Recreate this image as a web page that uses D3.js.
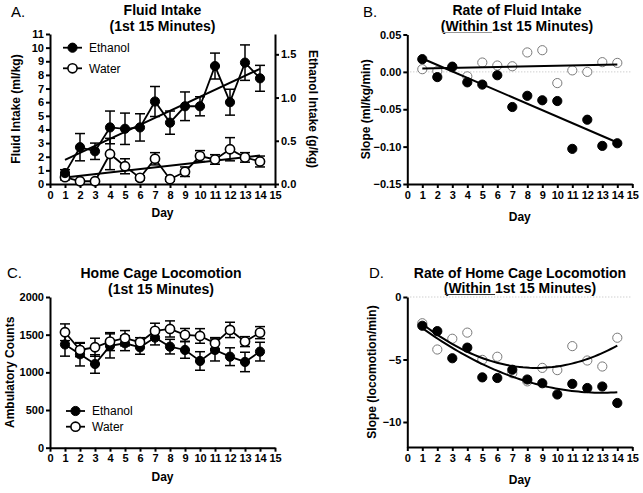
<!DOCTYPE html>
<html><head><meta charset="utf-8">
<script src="https://cdn.jsdelivr.net/npm/d3@7"></script>
<style>
body{margin:0;background:#fff;}
svg{display:block;font-family:"Liberation Sans",Arial,sans-serif;}
.axis path,.axis line{stroke:#000;stroke-width:2;}
.axis text{font-size:11px;font-weight:bold;fill:#000;font-family:"Liberation Sans",Arial,sans-serif;}
</style></head><body>
<svg id="c" width="643" height="493"></svg>
<script>
// ---------- data ----------
const days = [1,2,3,4,5,6,7,8,9,10,11,12,13,14];
const xTicks = [0,1,2,3,4,5,6,7,8,9,10,11,12,13,14,15];

// A. Fluid intake (ml/kg), mean and SEM
const fluidEthanol    = [0.8,2.7,2.4,4.15,4.05,4.15,6.05,4.5,5.7,5.7,8.65,6.0,8.9,7.75];
const fluidEthanolSem = [0.25,1.0,0.6,1.2,1.15,1.0,1.1,0.85,1.05,0.7,0.95,0.95,1.3,0.95];
const fluidWater      = [0.5,0.2,0.2,2.2,1.3,0.45,1.85,0.35,0.9,2.05,1.8,2.55,1.95,1.65];
const fluidWaterSem   = [0.2,0.1,0.1,1.15,0.55,0.15,0.45,0.15,0.35,0.4,0.35,0.85,0.35,0.4];
const fluidYTicks = [0,1,2,3,4,5,6,7,8,9,10,11];
const ethanolGkgTicks = [0.0,0.5,1.0,1.5];

// B. Rate of fluid intake (slope, ml/kg/min)
const rateEthanol = [0.017,-0.007,0.007,-0.014,-0.017,-0.0045,-0.047,-0.032,-0.038,-0.039,-0.103,-0.064,-0.099,-0.0955];
const rateWater   = [0.0036,0.001,0.006,-0.006,0.0125,0.0085,0.0075,0.026,0.029,-0.015,0.002,0.0,0.013,0.012];
const rateYTicks = [0.05,0.00,-0.05,-0.10,-0.15];

// C. Home cage locomotion (ambulatory counts), mean and SEM
const locoEthanol    = [1370,1240,1111,1351,1386,1333,1461,1341,1297,1151,1297,1208,1138,1275];
const locoEthanolSem = [155,155,123,160,98,93,97,97,110,123,146,118,129,124];
const locoWater      = [1532,1297,1333,1408,1453,1400,1550,1576,1497,1483,1386,1563,1408,1527];
const locoWaterSem   = [111,89,120,119,101,60,102,107,85,97,75,102,66,80];
const locoYTicks = [0,500,1000,1500,2000];

// D. Rate of home cage locomotion (slope, locomotion/min)
const locoRateEthanol = [-2.3,-2.73,-4.9,-4.05,-6.43,-6.48,-5.82,-6.6,-6.9,-7.8,-6.95,-7.28,-7.16,-8.48];
const locoRateWater   = [-2.1,-4.2,-3.34,-2.85,-5.03,-4.78,-6.1,-6.75,-5.67,-5.85,-3.93,-5.08,-5.56,-3.26];
const locoRateYTicks = [0,-5,-10];

// ---------- helpers ----------
const svg = d3.select("#c");
const FONT = '"Liberation Sans",Arial,sans-serif';

function linFit(xs, ys){
  const mx = d3.mean(xs), my = d3.mean(ys);
  let sxy=0,sxx=0; xs.forEach((x,i)=>{sxy+=(x-mx)*(ys[i]-my); sxx+=(x-mx)*(x-mx);});
  const b = sxy/sxx; return x => my + b*(x-mx);
}
function quadFit(xs, ys){
  const mx = d3.mean(xs), n = xs.length;
  let s2=0,s3=0,s4=0,sy=0,suy=0,su2y=0;
  xs.forEach((x,i)=>{const u=x-mx,y=ys[i]; s2+=u*u; s3+=u*u*u; s4+=u*u*u*u; sy+=y; suy+=u*y; su2y+=u*u*y;});
  const M=[[n,0,s2,sy],[0,s2,s3,suy],[s2,s3,s4,su2y]];
  for(let i=0;i<3;i++){for(let j=i+1;j<3;j++){const f=M[j][i]/M[i][i];for(let k=i;k<4;k++)M[j][k]-=f*M[i][k];}}
  const c=M[2][3]/M[2][2]; const b=(M[1][3]-M[1][2]*c)/M[1][1]; const a=(M[0][3]-M[0][2]*c-M[0][1]*b)/M[0][0];
  return x => a + b*(x-mx) + c*(x-mx)*(x-mx);
}

function panel(opt){
  const g = svg.append("g");
  const x = d3.scaleLinear().domain([0,15]).range([opt.x0,opt.x1]);
  const y = d3.scaleLinear().domain(opt.yDomain).range([opt.yb,opt.yt]);
  g.append("text").attr("x",opt.lx).attr("y",opt.ly).attr("font-size",15).attr("font-family",FONT).text(opt.letter);
  const tc = opt.tc;
  g.append("text").attr("x",tc).attr("y",opt.t1).attr("text-anchor","middle").attr("font-size",14).attr("font-weight","bold").attr("font-family",FONT).text(opt.title1);
  const t2 = g.append("text").attr("x",tc).attr("y",opt.t2).attr("text-anchor","middle").attr("font-size",14).attr("font-weight","bold").attr("font-family",FONT).text(opt.title2);
  if(opt.underline){
    const node=t2.node();
    const sx=node.getStartPositionOfChar(0).x, ex=node.getEndPositionOfChar(7).x;
    g.append("line").attr("x1",sx+1).attr("x2",ex).attr("y1",opt.t2+1.5).attr("y2",opt.t2+1.5).attr("stroke",opt.underline).attr("stroke-width",1.2);
  }
  if(opt.zero){
    g.append("line").attr("x1",x(0)).attr("x2",x(15)).attr("y1",y(0)).attr("y2",y(0))
      .attr("stroke","#bbb").attr("stroke-width",1).attr("stroke-dasharray","1,2");
  }
  g.append("g").attr("class","axis").attr("transform",`translate(0,${opt.yb})`)
    .call(d3.axisBottom(x).tickValues(xTicks).tickFormat(d3.format("d")).tickSize(4).tickSizeOuter(0).tickPadding(3));
  g.append("g").attr("class","axis").attr("transform",`translate(${opt.x0},0)`)
    .call(d3.axisLeft(y).tickValues(opt.yTicks).tickFormat(opt.yFmt).tickSize(4).tickSizeOuter(0).tickPadding(2));
  g.append("text").attr("x",(opt.x0+opt.x1)/2).attr("y",opt.dayY).attr("text-anchor","middle")
    .attr("font-size",12).attr("font-weight","bold").attr("font-family",FONT).text("Day");
  g.append("text").attr("transform",`translate(${opt.ylx},${(opt.yb+opt.yt)/2}) rotate(-90)`).attr("dy","0.35em")
    .attr("text-anchor","middle").attr("font-size",12).attr("font-weight","bold").attr("font-family",FONT).text(opt.ylabel);
  return {g,x,y};
}

function errorBars(g,x,y,vals,sem){
  const cap=5;
  const eb = g.append("g").attr("stroke","#000").attr("stroke-width",1.5).attr("fill","none");
  days.forEach((d,i)=>{
    const cx=x(d), top=y(vals[i]+sem[i]), bot=y(vals[i]-sem[i]);
    eb.append("line").attr("x1",cx).attr("x2",cx).attr("y1",top).attr("y2",bot);
    eb.append("line").attr("x1",cx-cap).attr("x2",cx+cap).attr("y1",top).attr("y2",top);
    eb.append("line").attr("x1",cx-cap).attr("x2",cx+cap).attr("y1",bot).attr("y2",bot);
  });
}
function series(g,x,y,vals,filled,connect,openColor){
  if(connect){
    g.append("path").datum(vals).attr("fill","none").attr("stroke","#000").attr("stroke-width",1.8)
      .attr("d",d3.line().x((v,i)=>x(days[i])).y(v=>y(v)));
  }
  g.append("g").selectAll("circle").data(vals).join("circle")
    .attr("cx",(v,i)=>x(days[i])).attr("cy",v=>y(v)).attr("r",4.6)
    .attr("fill",filled?"#000":"#fff").attr("stroke",filled?"#000":(openColor||"#000"))
    .attr("stroke-width",filled?1:(openColor?1:1.6));
}
function fitLine(g,x,y,f,steps){
  const s = steps||1;
  const pts = d3.range(0,s+1).map(k=>1+13*k/s);
  g.append("path").datum(pts).attr("fill","none").attr("stroke","#000").attr("stroke-width",2)
    .attr("d",d3.line().x(d=>x(d)).y(d=>y(f(d))));
}
function legend(g,lx,ly,gap){
  [["Ethanol",true],["Water",false]].forEach(([name,filled],k)=>{
    const yy=ly+k*gap;
    g.append("line").attr("x1",lx).attr("x2",lx+19).attr("y1",yy).attr("y2",yy).attr("stroke","#000").attr("stroke-width",1.8);
    g.append("circle").attr("cx",lx+9.5).attr("cy",yy).attr("r",4.6).attr("fill",filled?"#000":"#fff").attr("stroke","#000").attr("stroke-width",filled?1:1.6);
    g.append("text").attr("x",lx+26).attr("y",yy+4.3).attr("font-size",12).attr("font-family",FONT).text(name);
  });
}

// ---------- Panel A ----------
{
  const p = panel({letter:"A.",lx:11,ly:17,tc:162.5,t1:15,t2:31,title1:"Fluid Intake",title2:"(1st 15 Minutes)",
    x0:50,x1:275,yb:184,yt:34,yDomain:[0,11],yTicks:fluidYTicks,yFmt:d3.format("d"),dayY:217,ylx:15.5,
    ylabel:"Fluid Intake (ml/kg)"});
  const {g,x,y}=p;
  const y2 = d3.scaleLinear().domain([0,1.735]).range([184,34]);
  g.append("g").attr("class","axis").attr("transform","translate(275,0)")
    .call(d3.axisRight(y2).tickValues(ethanolGkgTicks).tickFormat(d3.format(".1f")).tickSize(4).tickSizeOuter(0).tickPadding(2));
  g.append("text").attr("transform",`translate(313,109) rotate(90)`).attr("dy","0.35em").attr("text-anchor","middle")
    .attr("font-size",12).attr("font-weight","bold").attr("font-family",FONT).text("Ethanol Intake (g/kg)");
  errorBars(g,x,y,fluidWater,fluidWaterSem);
  errorBars(g,x,y,fluidEthanol,fluidEthanolSem);
  fitLine(g,x,y,linFit(days,fluidWater));
  fitLine(g,x,y,linFit(days,fluidEthanol));
  series(g,x,y,fluidWater,false,true);
  series(g,x,y,fluidEthanol,true,true);
  legend(g,63,47.7,20.6);
}
// ---------- Panel B ----------
{
  const p = panel({letter:"B.",lx:363,ly:17,tc:517,t1:15,t2:31,title1:"Rate of Fluid Intake",title2:"(Within 1st 15 Minutes)",
    underline:"#999",x0:407.3,x1:632.3,yb:184,yt:34.5,yDomain:[-0.15,0.05],yTicks:rateYTicks,yFmt:d3.format(".2f"),dayY:221,ylx:366,
    ylabel:"Slope (ml/kg/min)",zero:true});
  const {g,x,y}=p;
  series(g,x,y,rateWater,false,false,"#7a7a7a");
  fitLine(g,x,y,linFit(days,rateWater));
  series(g,x,y,rateEthanol,true,false);
  fitLine(g,x,y,linFit(days,rateEthanol));
}
// ---------- Panel C ----------
{
  const p = panel({letter:"C.",lx:7,ly:278,tc:161,t1:278,t2:294,title1:"Home Cage Locomotion",title2:"(1st 15 Minutes)",
    x0:50,x1:275,yb:447.7,yt:297,yDomain:[0,2000],yTicks:locoYTicks,yFmt:d3.format("d"),dayY:481,ylx:10,
    ylabel:"Ambulatory Counts"});
  const {g,x,y}=p;
  errorBars(g,x,y,locoEthanol,locoEthanolSem);
  errorBars(g,x,y,locoWater,locoWaterSem);
  series(g,x,y,locoEthanol,true,true);
  series(g,x,y,locoWater,false,true);
  legend(g,66,411,15.7);
}
// ---------- Panel D ----------
{
  const p = panel({letter:"D.",lx:369,ly:278,tc:520,t1:278,t2:293,title1:"Rate of Home Cage Locomotion",title2:"(Within 1st 15 Minutes)",
    underline:"#333",x0:407.3,x1:632.3,yb:447,yt:297,yDomain:[-12,0],yTicks:locoRateYTicks,yFmt:d3.format("d"),dayY:484,ylx:371.7,
    ylabel:"Slope (locomotion/min)",zero:true});
  const {g,x,y}=p;
  series(g,x,y,locoRateWater,false,false,"#7a7a7a");
  series(g,x,y,locoRateEthanol,true,false);
  fitLine(g,x,y,quadFit(days,locoRateWater),60);
  fitLine(g,x,y,quadFit(days,locoRateEthanol),60);
}
</script>
</body></html>
